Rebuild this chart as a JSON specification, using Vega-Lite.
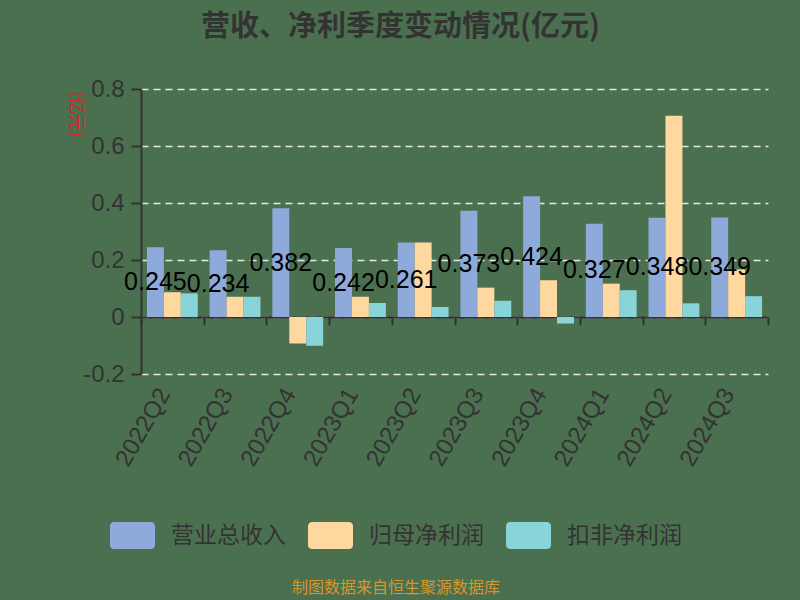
{
  "$schema": "https://vega.github.io/schema/vega-lite/v6.json",
  "autosize": {"type": "none"},
  "width": 627,
  "height": 285,
  "padding": {"left": 141, "top": 89, "right": 32, "bottom": 226},
  "background": "#4b7050",
  "config": {
    "view": {"stroke": null},
    "font": "Noto Sans CJK SC"
  },
  "title": {
    "text": "营收、净利季度变动情况(亿元)",
    "fontSize": 29,
    "fontWeight": "bold",
    "color": "#333333",
    "anchor": "middle",
    "dx": -54,
    "offset": 35
  },
  "data": {
    "values": [
      {"quarter": "2022Q2", "series": "营业总收入", "value": 0.245},
      {"quarter": "2022Q2", "series": "归母净利润", "value": 0.087},
      {"quarter": "2022Q2", "series": "扣非净利润", "value": 0.083},
      {"quarter": "2022Q3", "series": "营业总收入", "value": 0.234},
      {"quarter": "2022Q3", "series": "归母净利润", "value": 0.071},
      {"quarter": "2022Q3", "series": "扣非净利润", "value": 0.071},
      {"quarter": "2022Q4", "series": "营业总收入", "value": 0.382},
      {"quarter": "2022Q4", "series": "归母净利润", "value": -0.093},
      {"quarter": "2022Q4", "series": "扣非净利润", "value": -0.101},
      {"quarter": "2023Q1", "series": "营业总收入", "value": 0.242},
      {"quarter": "2023Q1", "series": "归母净利润", "value": 0.071},
      {"quarter": "2023Q1", "series": "扣非净利润", "value": 0.049},
      {"quarter": "2023Q2", "series": "营业总收入", "value": 0.261},
      {"quarter": "2023Q2", "series": "归母净利润", "value": 0.261},
      {"quarter": "2023Q2", "series": "扣非净利润", "value": 0.035},
      {"quarter": "2023Q3", "series": "营业总收入", "value": 0.373},
      {"quarter": "2023Q3", "series": "归母净利润", "value": 0.103},
      {"quarter": "2023Q3", "series": "扣非净利润", "value": 0.057},
      {"quarter": "2023Q4", "series": "营业总收入", "value": 0.424},
      {"quarter": "2023Q4", "series": "归母净利润", "value": 0.129},
      {"quarter": "2023Q4", "series": "扣非净利润", "value": -0.023},
      {"quarter": "2024Q1", "series": "营业总收入", "value": 0.327},
      {"quarter": "2024Q1", "series": "归母净利润", "value": 0.117},
      {"quarter": "2024Q1", "series": "扣非净利润", "value": 0.094},
      {"quarter": "2024Q2", "series": "营业总收入", "value": 0.348},
      {"quarter": "2024Q2", "series": "归母净利润", "value": 0.706},
      {"quarter": "2024Q2", "series": "扣非净利润", "value": 0.048},
      {"quarter": "2024Q3", "series": "营业总收入", "value": 0.349},
      {"quarter": "2024Q3", "series": "归母净利润", "value": 0.167},
      {"quarter": "2024Q3", "series": "扣非净利润", "value": 0.073}
    ]
  },
  "encoding": {
    "x": {
      "field": "quarter",
      "type": "nominal",
      "sort": null,
      "scale": {"paddingInner": 0, "paddingOuter": 0},
      "axis": {
        "title": null,
        "offset": -57,
        "domainColor": "#333333",
        "domainWidth": 2,
        "tickColor": "#333333",
        "tickWidth": 2,
        "tickSize": 8,
        "tickBand": "extent",
        "labelAngle": -60,
        "labelFont": "Liberation Sans",
        "labelFontSize": 24,
        "labelColor": "#333333",
        "labelPadding": 65,
        "labelOffset": -8
      }
    },
    "xOffset": {
      "field": "series",
      "type": "nominal",
      "sort": ["营业总收入", "归母净利润", "扣非净利润"],
      "scale": {"domain": ["营业总收入", "归母净利润", "扣非净利润"], "paddingInner": 0, "paddingOuter": 0.35}
    }
  },
  "layer": [
    {
      "mark": {"type": "bar"},
      "encoding": {
        "y": {
          "field": "value",
          "type": "quantitative",
          "scale": {"domain": [-0.2, 0.8], "nice": false, "zero": true},
          "axis": {
            "title": "(亿元)",
            "titleColor": "#dd2222",
            "titleFontSize": 17,
            "titleFontWeight": "normal",
            "titleAngle": 90,
            "titleX": -66,
            "titleY": 2,
            "titleAlign": "left",
            "titleBaseline": "middle",
            "values": [-0.2, 0, 0.2, 0.4, 0.6, 0.8],
            "labelExpr": "toString(datum.value)",
            "labelFont": "Liberation Sans",
            "labelFontSize": 24,
            "labelColor": "#333333",
            "labelPadding": 7,
            "domainColor": "#333333",
            "domainWidth": 2,
            "tickColor": "#333333",
            "tickWidth": 2,
            "tickSize": 10,
            "grid": true,
            "gridColor": "#e6e6e6",
            "gridDash": [7, 5],
            "gridWidth": 1.5
          }
        },
        "color": {
          "field": "series",
          "type": "nominal",
          "sort": ["营业总收入", "归母净利润", "扣非净利润"],
          "scale": {
            "domain": ["营业总收入", "归母净利润", "扣非净利润"],
            "range": ["#8eaadb", "#ffd8a0", "#88d5d9"]
          },
          "legend": {
            "orient": "none",
            "direction": "horizontal",
            "legendX": -31,
            "legendY": 424,
            "title": "制图数据来自恒生聚源数据库",
            "titleOrient": "bottom",
            "titleAnchor": "middle",
            "titleAlign": "center",
            "titleColor": "#d8962a",
            "titleFontSize": 16,
            "titleFontWeight": "normal",
            "titlePadding": 31,
            "titleLimit": 600,
            "symbolType": "M-0.8,-0.6 L0.8,-0.6 Q1,-0.6 1,-0.4 L1,0.4 Q1,0.6 0.8,0.6 L-0.8,0.6 Q-1,0.6 -1,0.4 L-1,-0.4 Q-1,-0.6 -0.8,-0.6 Z",
            "symbolSize": 2025,
            "symbolStrokeWidth": 0,
            "symbolOpacity": 1,
            "labelFontSize": 23,
            "labelColor": "#333333",
            "labelOffset": 16,
            "labelLimit": 300,
            "columnPadding": 22
          }
        }
      }
    },
    {
      "transform": [{"filter": "datum.series === '营业总收入'"}],
      "mark": {"type": "text", "font": "Liberation Sans", "fontSize": 25, "color": "#000000", "align": "center", "baseline": "middle"},
      "encoding": {
        "y": {
          "field": "value",
          "type": "quantitative",
          "scale": {"domain": [-0.4, 1.6], "nice": false, "zero": false},
          "axis": null
        },
        "text": {"field": "value", "type": "quantitative", "format": ".3~f"}
      }
    }
  ],
  "resolve": {"scale": {"y": "independent"}}
}
